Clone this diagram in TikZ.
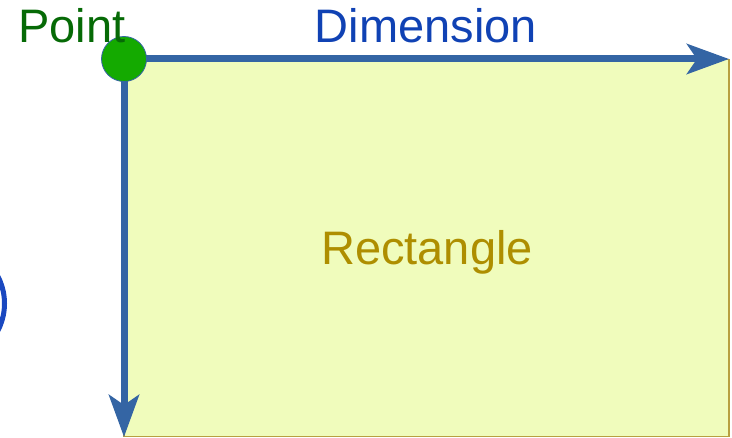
\documentclass[tikz,border=0pt]{standalone}
\usepackage{fontspec}
\setmainfont{Liberation Sans}
\usetikzlibrary{arrows.meta}
\definecolor{axisblue}{HTML}{3465A4}
\definecolor{rectfill}{HTML}{F0FCBC}
\definecolor{rectline}{HTML}{B8A040}
\definecolor{rectext}{HTML}{AE8E00}
\definecolor{dimtext}{HTML}{1042B4}
\definecolor{pttext}{HTML}{066A06}
\definecolor{ptfill}{HTML}{14AA00}
\definecolor{ringblue}{HTML}{1A48C0}
\tikzset{
  axis/.style={draw=axisblue, line width=7pt, -{Stealth[length=42pt, width=30pt, inset=10pt]}},
  bigtext/.style={font=\fontsize{47}{56}\selectfont, inner sep=0pt, anchor=base},
  dot/.style={circle, fill=ptfill, draw=axisblue, line width=0.8pt, minimum size=45pt, inner sep=0pt},
}
\begin{document}
\begin{tikzpicture}[x=1pt, y=-1pt]
\useasboundingbox (0,0) rectangle (732,438);
\node[draw=rectline, line width=1.5pt, fill=rectfill, minimum width=605pt, minimum height=377pt, inner sep=0pt, anchor=north west] (rect) at (123,59) {};
\node[bigtext, text=rectext] (rlabel) at (427,265) {Rectangle};
\draw[ringblue, line width=5pt] (-54.5,303.5) circle[radius=59];
\coordinate (origin) at (124,59);
\coordinate (hend) at (729,59);
\coordinate (vend) at (124,437);
\draw[axis] (origin) -- (hend);
\draw[axis] (origin) -- (vend);
\node[dot] (pt) at (origin) {};
\node[bigtext, text=pttext, anchor=base west] (plabel) at (18,43) {Point};
\node[bigtext, text=dimtext] (dlabel) at (426,43) {Dimension};
\end{tikzpicture}
\end{document}
